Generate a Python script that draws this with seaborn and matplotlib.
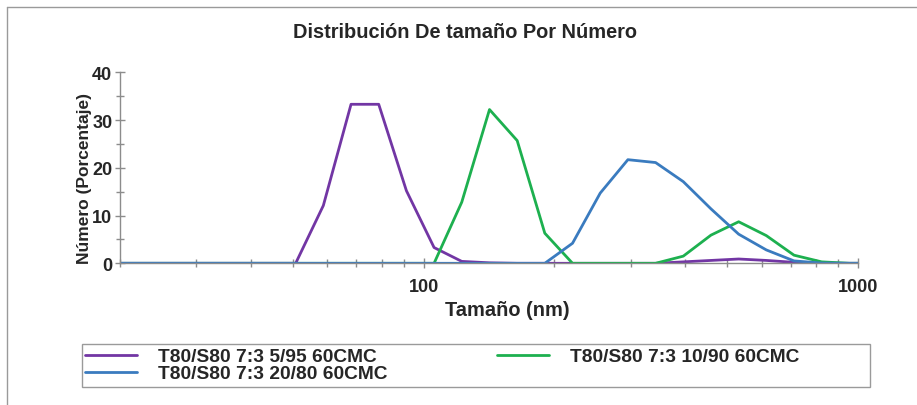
import matplotlib
matplotlib.use("Agg")
import matplotlib.pyplot as plt
from matplotlib.lines import Line2D
from matplotlib.patches import Rectangle
import numpy as np
import pandas as pd
import seaborn as sns

# Size classes (nm) of the number distribution
size_nm = [18.17, 21.04, 24.36, 28.21, 32.67, 37.84, 43.82, 50.75, 58.77, 68.06,
           78.82, 91.28, 105.7, 122.4, 141.8, 164.2, 190.1, 220.2, 255.0, 295.3,
           342.0, 396.1, 458.7, 531.2, 615.1, 712.4, 825.0, 955.4, 1106.0]

# Number percentage per size class
pct_5_95 = [0, 0, 0, 0, 0, 0, 0, 0, 12.1, 33.3,
            33.3, 15.2, 3.3, 0.4, 0.1, 0, 0, 0, 0, 0,
            0, 0.3, 0.6, 0.9, 0.6, 0.2, 0, 0, 0]
pct_10_90 = [0, 0, 0, 0, 0, 0, 0, 0, 0, 0,
             0, 0, 0, 12.8, 32.2, 25.7, 6.3, 0, 0, 0,
             0, 1.5, 5.9, 8.7, 5.8, 1.7, 0.3, 0, 0]
pct_20_80 = [0, 0, 0, 0, 0, 0, 0, 0, 0, 0,
             0, 0, 0, 0, 0, 0, 0, 4.2, 14.7, 21.7,
             21.1, 17.1, 11.4, 6.1, 2.8, 0.5, 0.05, 0, 0]

series_labels = ["T80/S80 7:3 5/95 60CMC",
                 "T80/S80 7:3 10/90 60CMC",
                 "T80/S80 7:3 20/80 60CMC"]
series_colors = ["#7236a4", "#1db04f", "#3a7bbf"]

chart_title = "Distribución De tamaño Por Número"
x_label = "Tamaño (nm)"
y_label = "Número (Porcentaje)"

sns.set_style("ticks")
plt.rcParams["font.family"] = ["Liberation Sans", "DejaVu Sans"]
plt.rcParams["font.weight"] = "bold"

W, H = 917, 406
fig = plt.figure(figsize=(W / 100, H / 100), dpi=100)
ax = fig.add_axes([120 / W, 1 - 264.3 / H, (858 - 120) / W, (264.3 - 73.3) / H])

frames = []
for vals, lab in zip([pct_5_95, pct_10_90, pct_20_80], series_labels):
    frames.append(pd.DataFrame({"size": size_nm, "pct": vals, "serie": lab}))
df = pd.concat(frames, ignore_index=True)

# draw order: 5/95, 10/90, then 20/80 on top
for lab, col in zip(series_labels, series_colors):
    sns.lineplot(data=df[df["serie"] == lab], x="size", y="pct", color=col,
                 lw=2.0, ax=ax, legend=False)

ax.set_xscale("log")
ax.set_xlim(20, 1000)
ax.set_ylim(0, 40)
ax.set_xticks([100, 1000])
ax.set_xticklabels(["100", "1000"])
ax.set_xticks([20, 30, 40, 50, 60, 70, 80, 90, 200, 300, 400, 500, 600, 700, 800, 900], minor=True)
ax.set_xticklabels([], minor=True)
ax.set_yticks([0, 10, 20, 30, 40])
ax.set_yticks([5, 15, 25, 35], minor=True)
ax.set_xlabel("")
ax.set_ylabel("")

for s in ["top", "right"]:
    ax.spines[s].set_visible(False)
for s in ["left", "bottom"]:
    ax.spines[s].set_color("#8c8c8c")
    ax.spines[s].set_linewidth(1.0)

ax.tick_params(axis="both", which="both", direction="inout", color="#8c8c8c", width=1.0)
ax.tick_params(axis="both", which="major", length=7, labelsize=13)
ax.tick_params(axis="both", which="minor", length=6)
ax.tick_params(axis="y", which="major", pad=2)
ax.tick_params(axis="x", which="major", pad=7)
for t in ax.get_xticklabels() + ax.get_yticklabels():
    t.set_fontweight("bold")

fig.text(465 / W, 1 - 33 / H, chart_title, ha="center", va="center",
         fontsize=14.4, fontweight="bold")
fig.text(507 / W, 1 - 311 / H, x_label, ha="center", va="center",
         fontsize=14.4, fontweight="bold")
fig.text(85 / W, 1 - 178 / H, y_label, ha="center", va="center",
         fontsize=12.5, fontweight="bold", rotation=90)

# outer chart frame (left and top edges)
fig.add_artist(Line2D([7 / W, 7 / W], [0, 1 - 8 / H], transform=fig.transFigure,
                      color="#9a9a9a", lw=1.0))
fig.add_artist(Line2D([7 / W, 1], [1 - 8 / H, 1 - 8 / H], transform=fig.transFigure,
                      color="#9a9a9a", lw=1.0))

# legend box
fig.add_artist(Rectangle((82 / W, 1 - 388 / H), (870 - 82) / W, (388 - 345) / H,
                         transform=fig.transFigure, fill=False,
                         edgecolor="#9a9a9a", lw=1.0))
handles = [Line2D([], [], color=c, lw=2.0) for c in series_colors]
order = [0, 2, 1]
leg_fs = 13.8
leg = fig.legend([handles[i] for i in order], [series_labels[i] for i in order],
                 loc="upper left", bbox_to_anchor=(85 / W, 1 - 349 / H),
                 ncol=2, frameon=False, fontsize=leg_fs, handlelength=2.71,
                 handletextpad=1.1, columnspacing=5.7, labelspacing=-0.03,
                 borderpad=0.0, borderaxespad=0.0)
for t in leg.get_texts():
    t.set_fontweight("bold")

fig.savefig("out.png", dpi=100)
